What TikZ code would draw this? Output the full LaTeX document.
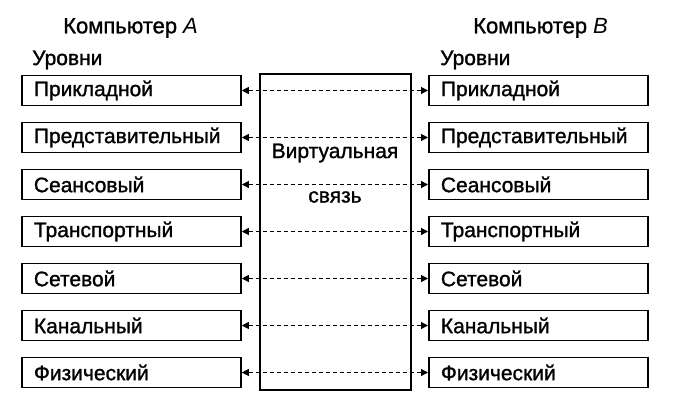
\documentclass[tikz,border=0pt]{standalone}
\usepackage{fontspec}
\setmainfont{Liberation Sans}[AutoFakeBold=1.2]
\usetikzlibrary{arrows.meta}
\begin{document}
\begin{tikzpicture}[x=1pt,y=-1pt,
  txt/.style={font=\fontsize{21}{23}\selectfont\bfseries},
  layer/.style={draw, line width=1.8pt, rectangle, minimum height=30pt,
    text width=195pt, inner xsep=12pt, inner ysep=0pt, align=left,
    txt, anchor=west},
  lbl/.style={inner sep=0pt, txt},
  conn/.style={line width=1.1pt, dash pattern=on 4pt off 3pt,
    {Triangle[length=7pt,width=7pt]}-{Triangle[length=7pt,width=7pt]}}]
\useasboundingbox (0,0) rectangle (674,407);
% central box
\node[draw, line width=1.8pt, minimum width=151pt, minimum height=316pt, inner sep=0pt] (virt) at (335.5,232) {};
\node[lbl] (vt1) at (335,153) {Виртуальная};
\node[lbl] (vt2) at (335,197) {связь};
% headers
\node[lbl, anchor=west, font=\fontsize{22}{24}\selectfont\bfseries] (ha) at (63,28) {Компьютер \textit{A}};
\node[lbl, anchor=west, font=\fontsize{22}{24}\selectfont\bfseries] (hb) at (473,28) {Компьютер \textit{B}};
\node[lbl, anchor=west] (ua) at (32,60) {Уровни};
\node[lbl, anchor=west] (ub) at (440,60) {Уровни};
% layers
\foreach \i/\t in {1/Прикладной,2/Представительный,3/Сеансовый,4/Транспортный,5/Сетевой,6/Канальный,7/Физический}{
  \node[layer] (l\i) at (21,{90.5+47*(\i-1)}) {\t};
  \node[layer] (r\i) at (428,{90.5+47*(\i-1)}) {\t};
  \draw[conn] (l\i.east) -- (r\i.west);
}
\end{tikzpicture}
\end{document}
